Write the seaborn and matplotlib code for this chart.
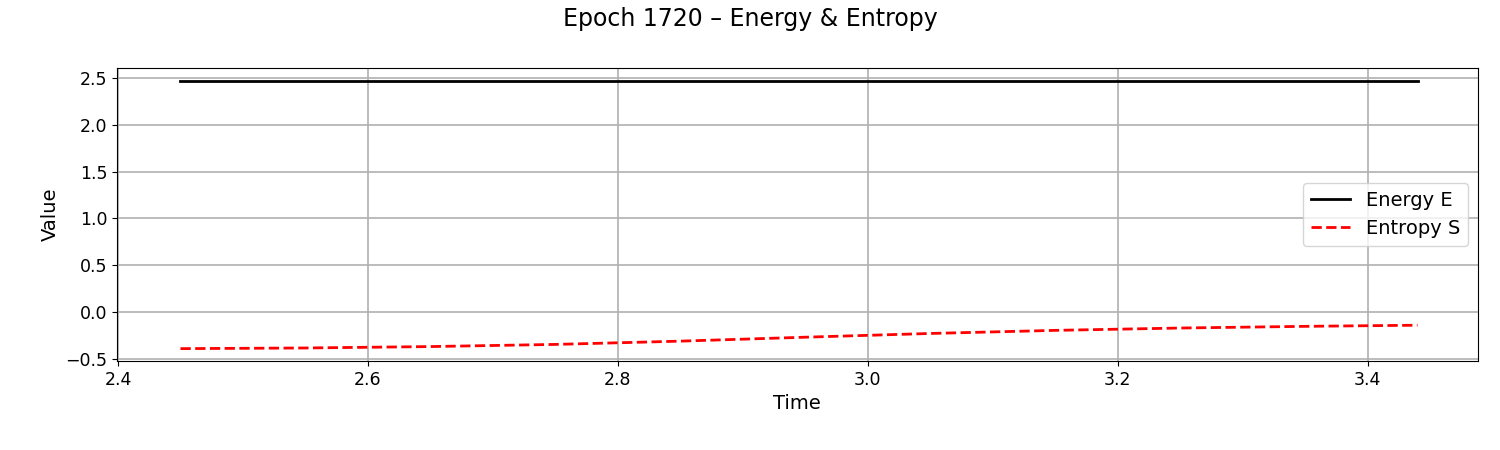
import matplotlib
matplotlib.use("Agg")
import matplotlib.pyplot as plt
import seaborn as sns
import numpy as np

time = [2.45, 2.55, 2.65, 2.75, 2.85, 2.95, 3.05, 3.15, 3.25, 3.35, 3.44]
energy = [2.468]*11
entropy = [-0.390, -0.383, -0.368, -0.345, -0.310, -0.268, -0.228, -0.195, -0.170, -0.152, -0.140]

fig, ax = plt.subplots(figsize=(15, 4.5), dpi=100)
sns.lineplot(x=time, y=energy, ax=ax, color="black", linewidth=2, label="Energy E")
sns.lineplot(x=time, y=entropy, ax=ax, color="red", linewidth=2, linestyle="--", label="Entropy S")
ax.set_xlim(2.3992, 3.488)
ax.set_ylim(-0.521, 2.607)
ax.set_xticks([2.4, 2.6, 2.8, 3.0, 3.2, 3.4])
ax.set_yticks([-0.5, 0.0, 0.5, 1.0, 1.5, 2.0, 2.5])
ax.tick_params(labelsize=12.5)
ax.grid(True, linewidth=1.2)
ax.set_xlabel("Time", fontsize=14)
ax.set_ylabel("Value", fontsize=14)
fig.suptitle("Epoch 1720 – Energy & Entropy", fontsize=17, y=0.985)
ax.legend(loc="center right", fontsize=14)
fig.subplots_adjust(left=0.078, right=0.985, top=0.849, bottom=0.198)
fig.savefig("out.png")
